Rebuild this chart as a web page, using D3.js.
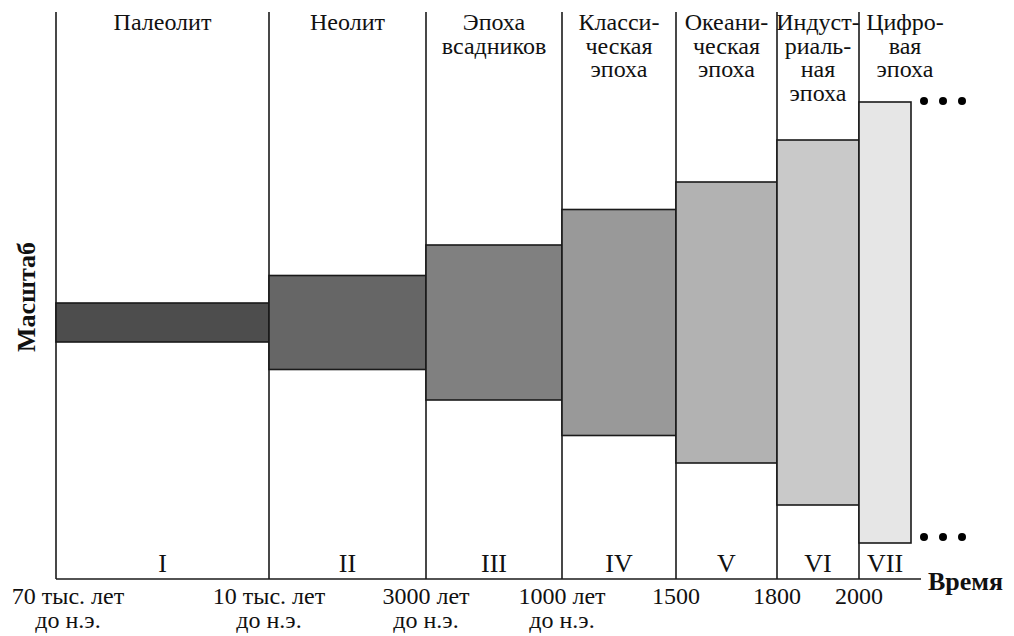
<!DOCTYPE html>
<html>
<head>
<meta charset="utf-8">
<script src="https://cdn.jsdelivr.net/npm/d3@7"></script>
<style>
  body { margin: 0; background: #fff; }
</style>
</head>
<body>
<div id="chart"></div>
<script>
// эпохи (перенос по строкам как в оригинале)
const eras = [
	['Палеолит'],
	['Неолит'],
	['Эпоха', 'всадников'],
	['Класси-', 'ческая', 'эпоха'],
	['Океани-', 'ческая', 'эпоха'],
	['Индуст-', 'риаль-', 'ная', 'эпоха'],
	['Цифро-', 'вая', 'эпоха']
];
const numerals = ['I', 'II', 'III', 'IV', 'V', 'VI', 'VII'];
// относительная ширина периода на схеме
const spans = [213, 157, 136, 114, 101, 82, 52];
// масштаб (полувысота полосы)
const scaleValues = [19.5, 47, 77.5, 113, 140.5, 182.5, 220.5];
const fills = ['#4d4d4d', '#666666', '#808080', '#999999', '#b2b2b2', '#c9c9c9', '#e6e6e6'];
const tickLabels = [
	['70 тыс. лет', 'до н.э.'],
	['10 тыс. лет', 'до н.э.'],
	['3000 лет', 'до н.э.'],
	['1000 лет', 'до н.э.'],
	['1500'],
	['1800'],
	['2000']
];

const width = 1014,
	height = 636,
	left = 56,
	axisY = 579,
	topY = 12;

const serif = '"Liberation Serif", "DejaVu Serif", serif';

const svg = d3.select('#chart')
	.append('svg')
	.attr('width', width)
	.attr('height', height)
	.attr('font-family', serif);

// cumulative edges
const edges = [0];
spans.forEach(function(s, i) { edges.push(edges[i] + s); });

const x = d3.scaleLinear()
	.domain([0, d3.sum(spans)])
	.range([left, left + d3.sum(spans)]);

const y = d3.scaleLinear()
	.domain([-250, 250])
	.range([572.5, 72.5]);

const periods = spans.map(function(s, i) {
	return { i: i, x0: edges[i], x1: edges[i + 1], v: scaleValues[i], fill: fills[i] };
});

// vertical separators (all but the open last period)
svg.selectAll('line.sep')
	.data(edges.slice(0, 7))
	.enter().append('line')
	.attr('class', 'sep')
	.attr('x1', function(d) { return x(d); })
	.attr('x2', function(d) { return x(d); })
	.attr('y1', topY)
	.attr('y2', axisY)
	.attr('stroke', '#1a1a1a')
	.attr('stroke-width', 1.6);

// bars
svg.selectAll('rect.bar')
	.data(periods)
	.enter().append('rect')
	.attr('class', 'bar')
	.attr('x', function(d) { return x(d.x0); })
	.attr('width', function(d) { return x(d.x1) - x(d.x0); })
	.attr('y', function(d) { return y(d.v); })
	.attr('height', function(d) { return y(-d.v) - y(d.v); })
	.attr('fill', function(d) { return d.fill; })
	.attr('stroke', '#1a1a1a')
	.attr('stroke-width', 1.6);

// time axis
svg.append('line')
	.attr('x1', left)
	.attr('x2', 921)
	.attr('y1', axisY)
	.attr('y2', axisY)
	.attr('stroke', '#1a1a1a')
	.attr('stroke-width', 1.6);

function txt(sel) {
	return sel.style('font-family', serif).attr('fill', '#111');
}

// era titles
const titleCx = function(d) {
	if (d.i === 6) return x(d.x0) + 46;
	return (x(d.x0) + x(d.x1)) / 2;
};
const titles = svg.selectAll('text.era')
	.data(periods)
	.enter().append('text')
	.attr('class', 'era')
	.attr('text-anchor', 'middle')
	.style('font-size', '24px')
	.call(txt);
titles.each(function(d) {
	const t = d3.select(this);
	eras[d.i].forEach(function(line, k) {
		t.append('tspan')
			.attr('x', titleCx(d))
			.attr('y', 30 + k * 23.5)
			.text(line);
	});
});

// roman numerals
svg.selectAll('text.num')
	.data(periods)
	.enter().append('text')
	.attr('class', 'num')
	.attr('text-anchor', 'middle')
	.attr('x', function(d) { return (x(d.x0) + x(d.x1)) / 2; })
	.attr('y', 572)
	.style('font-size', '26px')
	.call(txt)
	.text(function(d) { return numerals[d.i]; });

// tick labels
const ticks = svg.selectAll('text.tick')
	.data(edges.slice(0, 7))
	.enter().append('text')
	.attr('class', 'tick')
	.attr('text-anchor', 'middle')
	.style('font-size', '24px')
	.call(txt);
ticks.each(function(d, i) {
	const t = d3.select(this);
	const cx = i === 0 ? x(d) + 12 : x(d);
	tickLabels[i].forEach(function(line, k) {
		t.append('tspan')
			.attr('x', cx)
			.attr('y', 604 + k * 23.5)
			.text(line);
	});
});

// axis titles
svg.append('text')
	.attr('x', 928)
	.attr('y', 590)
	.style('font-size', '26px')
	.style('font-weight', 'bold')
	.call(txt)
	.text('Время');

svg.append('text')
	.attr('transform', 'translate(35,297) rotate(-90)')
	.attr('text-anchor', 'middle')
	.style('font-size', '26px')
	.style('font-weight', 'bold')
	.call(txt)
	.text('Масштаб');

// continuation dots
const lastBar = periods[6];
[lastBar.v, -lastBar.v].forEach(function(v) {
	svg.selectAll(null)
		.data([0, 1, 2])
		.enter().append('circle')
		.attr('cx', function(k) { return x(lastBar.x1) + 13 + k * 19; })
		.attr('cy', y(v) + (v > 0 ? -1 : -6))
		.attr('r', 4)
		.attr('fill', '#000');
});
</script>
</body>
</html>
